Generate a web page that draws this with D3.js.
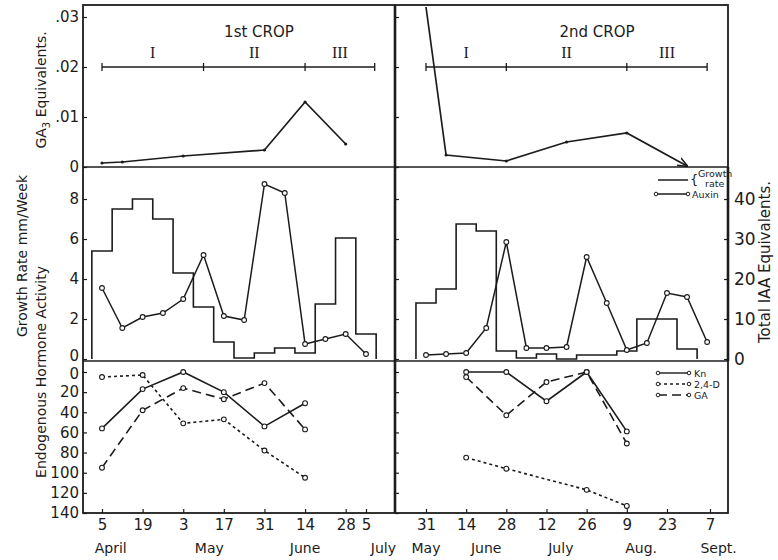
<!DOCTYPE html>
<html>
<head>
<meta charset="utf-8">
<script src="https://cdn.jsdelivr.net/npm/d3@7"></script>
<style>
  body { margin: 0; background: #fff; }
  text { font-family: "DejaVu Sans", sans-serif; fill: #1c1c1c; }
  .serif { font-family: "Liberation Serif", "DejaVu Serif", serif; }
</style>
</head>
<body>
<svg id="chart" width="778" height="560"></svg>
<script>
// ---- data ----
var weeksLeft = ["1960-04-05","1960-04-12","1960-04-19","1960-04-26","1960-05-03","1960-05-10","1960-05-17",
  "1960-05-24","1960-05-31","1960-06-07","1960-06-14","1960-06-21","1960-06-28","1960-07-05"];
var growthLeft = [5.4, 7.5, 8.0, 7.0, 4.3, 2.6, 0.85, 0.05, 0.3, 0.55, 0.3, 2.75, 6.05, 1.25];
var auxinLeft = [17.75, 7.75, 10.5, 11.5, 15, 26, 10.75, 9.75, 43.75, 41.5, 3.75, 5, 6.25, 1.25];

var weeksRight = ["1960-05-31","1960-06-07","1960-06-14","1960-06-21","1960-06-28","1960-07-05","1960-07-12",
  "1960-07-19","1960-07-26","1960-08-02","1960-08-09","1960-08-16","1960-08-23","1960-08-30"];
var growthRight = [2.8, 3.5, 6.75, 6.4, 0.4, 0.05, 0.25, 0.0, 0.2, 0.2, 0.4, 2.0, 2.0, 0.5];
var auxinRightDates = weeksRight.concat(["1960-09-06"]);
var auxinRight = [1.0, 1.25, 1.5, 7.75, 29.25, 2.75, 2.75, 3.0, 25.5, 14, 2.25, 4.0, 16.5, 15.5, 4.25];

var ga3LeftDates = ["1960-04-05","1960-04-12","1960-05-03","1960-05-31","1960-06-14","1960-06-28"];
var ga3Left = [0.0008, 0.001, 0.0022, 0.0034, 0.013, 0.0046];
var ga3RightDates = ["1960-05-31","1960-06-07","1960-06-28","1960-07-19","1960-08-09","1960-08-30"];
var ga3Right = [0.032, 0.0024, 0.0012, 0.005, 0.0068, 0.0002];

var hormoneLeftDates = ["1960-04-05","1960-04-19","1960-05-03","1960-05-17","1960-05-31","1960-06-14"];
var knLeft = [56, 17, 0, 20, 54, 31];
var gaLeft = [95, 38, 16, 27, 11, 57];
var d24Left = [5, 3, 51, 47, 78, 105];

var hormoneRightDates = ["1960-06-14","1960-06-28","1960-07-12","1960-07-26","1960-08-09"];
var knRight = [0, 0, 29, 0, 59];
var gaRight = [5, 43, 10, 0, 71];
var d24RightDates = ["1960-06-14","1960-06-28","1960-07-26","1960-08-09"];
var d24Right = [85, 96, 117, 133];

var phaseLeft = ["1960-04-05","1960-05-10","1960-06-14","1960-07-08"];
var phaseRight = ["1960-05-31","1960-06-28","1960-08-09","1960-09-06"];
var phaseLabels = ["I", "II", "III"];

var tickDatesLeft = ["1960-04-05","1960-04-19","1960-05-03","1960-05-17","1960-05-31","1960-06-14","1960-06-28","1960-07-05"];
var tickDatesRight = ["1960-05-31","1960-06-14","1960-06-28","1960-07-12","1960-07-26","1960-08-09","1960-08-23","1960-09-07"];
var monthsLeft = [["April","1960-04-08"],["May","1960-05-12"],["June","1960-06-14"],["July","1960-07-11"]];
var monthsRight = [["May","1960-05-31"],["June","1960-06-21"],["July","1960-07-17"],["Aug.","1960-08-14"],["Sept.","1960-09-10"]];

var ga3Ticks = [0, 0.01, 0.02, 0.03];
var growthTicks = [0, 2, 4, 6, 8];
var iaaTicks = [0, 10, 20, 30, 40];
var hormoneTicks = [0, 20, 40, 60, 80, 100, 120, 140];

// ---- setup ----
var parse = d3.utcParse("%Y-%m-%d");
var ink = "#1c1c1c";
var svg = d3.select("#chart");

var L = 83, R = 728, T = 5, MID = 395, B1 = 167, B2 = 361, B = 513;

var xLeft = d3.scaleUtc().domain([parse("1960-04-05"), parse("1960-07-05")]).range([102, 366]);
var xRight = d3.scaleUtc().domain([parse("1960-05-31"), parse("1960-09-07")]).range([426, 710]);

var yGA3 = d3.scaleLinear().domain([0, 0.03]).range([167, 17]);
var yGrowth = d3.scaleLinear().domain([0, 8]).range([359, 199]);
var yIAA = d3.scaleLinear().domain([0, 40]).range([359, 199]);
var yHormone = d3.scaleLinear().domain([0, 140]).range([372, 513]);

function pairs(dates, values) {
  return dates.map(function(d, i) { return { date: parse(d), value: values[i] }; });
}

// arrow marker for the GA3 line end
svg.append("defs").append("marker")
  .attr("id", "arrow").attr("viewBox", "0 0 10 10").attr("refX", 9).attr("refY", 5)
  .attr("markerWidth", 6).attr("markerHeight", 6).attr("orient", "auto")
  .append("path").attr("d", "M0,1 L10,5 L0,9").attr("fill", "none").attr("stroke", ink).attr("stroke-width", 1.5);

// ---- frame ----
svg.append("rect").attr("x", L).attr("y", T).attr("width", R - L).attr("height", B - T)
  .attr("fill", "none").attr("stroke", ink).attr("stroke-width", 1.8);
svg.append("line").attr("x1", L).attr("x2", R).attr("y1", B1).attr("y2", B1).attr("stroke", ink).attr("stroke-width", 1.6);
svg.append("line").attr("x1", L).attr("x2", R).attr("y1", B2).attr("y2", B2).attr("stroke", ink).attr("stroke-width", 1.6);
svg.append("line").attr("x1", MID).attr("x2", MID).attr("y1", T).attr("y2", B).attr("stroke", ink).attr("stroke-width", 2.6);
svg.append("line").attr("x1", R).attr("x2", R).attr("y1", B1).attr("y2", B2).attr("stroke", ink).attr("stroke-width", 2.6);

// ---- left axes ----
function styleAxis(g, size) {
  g.select(".domain").remove();
  g.selectAll("line").attr("stroke", ink).attr("stroke-width", 1.2);
  g.selectAll("text").style("font-size", size + "px").attr("fill", ink);
}

var fmtGA3 = function(d) { return d === 0 ? "0" : d3.format(".2f")(d).slice(1); };

svg.append("g").attr("transform", "translate(" + L + ",0)")
  .call(d3.axisLeft(yGA3).tickValues(ga3Ticks).tickFormat(fmtGA3).tickSize(-4).tickPadding(4))
  .call(styleAxis, 15);
svg.append("g").attr("transform", "translate(" + L + ",0)")
  .call(d3.axisLeft(yGrowth).tickValues(growthTicks).tickSize(-4).tickPadding(4))
  .call(styleAxis, 15)
  // the two stacked zeros sit closer in the original; nudge apart a little
  .selectAll(".tick text").filter(function(d) { return d === 0; }).attr("dy", "0.12em");
svg.append("g").attr("transform", "translate(" + L + ",0)")
  .call(d3.axisLeft(yHormone).tickValues(hormoneTicks).tickSize(-4).tickPadding(4))
  .call(styleAxis, 15)
  .selectAll(".tick text").filter(function(d) { return d === 0; }).attr("dy", "0.42em");

// ticks on the divider (no labels)
[[yGA3, ga3Ticks], [yGrowth, growthTicks], [yHormone, hormoneTicks]].forEach(function(s) {
  svg.append("g").attr("transform", "translate(" + MID + ",0)")
    .call(d3.axisRight(s[0]).tickValues(s[1]).tickFormat("").tickSize(4))
    .call(styleAxis, 10);
});

// right IAA axis
svg.append("g").attr("transform", "translate(" + R + ",0)")
  .call(d3.axisRight(yIAA).tickValues(iaaTicks).tickSize(-4).tickPadding(6))
  .call(styleAxis, 17);

// ---- bottom date axes ----
var dayFmt = d3.utcFormat("%-d");
[[xLeft, tickDatesLeft, monthsLeft], [xRight, tickDatesRight, monthsRight]].forEach(function(a) {
  svg.append("g").attr("transform", "translate(0," + B + ")")
    .call(d3.axisBottom(a[0]).tickValues(a[1].map(parse)).tickFormat(dayFmt).tickSize(-4).tickPadding(6))
    .call(styleAxis, 15);
  svg.append("g").selectAll("text").data(a[2]).join("text")
    .attr("x", function(d) { return a[0](parse(d[1])); })
    .attr("y", 553)
    .attr("text-anchor", "middle")
    .style("font-size", "14px")
    .text(function(d) { return d[0]; });
});

// ---- axis titles ----
var ga3Title = svg.append("text").attr("transform", "translate(46,90) rotate(-90)")
  .attr("text-anchor", "middle").style("font-size", "14px");
ga3Title.append("tspan").text("GA");
ga3Title.append("tspan").attr("dy", 4).style("font-size", "10px").text("3");
ga3Title.append("tspan").attr("dy", -4).text("  Equivalents.");

svg.append("text").attr("transform", "translate(27,256) rotate(-90)")
  .attr("text-anchor", "middle").style("font-size", "14px").text("Growth Rate  mm/Week");
svg.append("text").attr("transform", "translate(46,372) rotate(-90)")
  .attr("text-anchor", "middle").style("font-size", "14px").text("Endogenous  Hormone  Activity");
svg.append("text").attr("transform", "translate(770,262) rotate(-90)")
  .attr("text-anchor", "middle").style("font-size", "15px").text("Total  IAA  Equivalents.");

// ---- panel headers and phase bars ----
[[xLeft, phaseLeft, "1st  CROP", 259], [xRight, phaseRight, "2nd  CROP", 597]].forEach(function(p) {
  var xs = p[1].map(function(d) { return p[0](parse(d)); });
  var yb = yGA3(0.02);
  svg.append("text").attr("x", p[3]).attr("y", 37).attr("text-anchor", "middle")
    .style("font-size", "15px").text(p[2]);
  svg.append("line").attr("x1", xs[0]).attr("x2", xs[xs.length - 1]).attr("y1", yb).attr("y2", yb)
    .attr("stroke", ink).attr("stroke-width", 1.3);
  svg.append("g").selectAll("line").data(xs).join("line")
    .attr("x1", function(d) { return d; }).attr("x2", function(d) { return d; })
    .attr("y1", yb - 4).attr("y2", yb + 4).attr("stroke", ink).attr("stroke-width", 1.3);
  svg.append("g").selectAll("text").data(phaseLabels).join("text")
    .attr("class", "serif")
    .attr("x", function(d, i) { return (xs[i] + xs[i + 1]) / 2; })
    .attr("y", 58).attr("text-anchor", "middle").style("font-size", "16px")
    .text(function(d) { return d; });
});

// ---- GA3 lines ----
function drawLine(data, x, y, dash, width, marker) {
  var path = svg.append("path").datum(data)
    .attr("fill", "none").attr("stroke", ink).attr("stroke-width", width || 1.5)
    .attr("stroke-dasharray", dash || null)
    .attr("d", d3.line().x(function(d) { return x(d.date); }).y(function(d) { return y(d.value); }));
  if (marker) path.attr("marker-end", "url(#arrow)");
  return path;
}
function drawCircles(data, x, y, r) {
  svg.append("g").selectAll("circle").data(data).join("circle")
    .attr("cx", function(d) { return x(d.date); }).attr("cy", function(d) { return y(d.value); })
    .attr("r", r).attr("fill", "#fff").attr("stroke", ink).attr("stroke-width", 1.1);
}

var gaL = pairs(ga3LeftDates, ga3Left), gaR = pairs(ga3RightDates, ga3Right);
drawLine(gaL, xLeft, yGA3, null, 1.7);
drawLine(gaR, xRight, yGA3, null, 1.7, true);
svg.append("g").selectAll("circle").data(gaL.concat(gaR.slice(1, 5))).join("circle")
  .attr("cx", function(d, i) { return i < gaL.length ? xLeft(d.date) : xRight(d.date); })
  .attr("cy", function(d) { return yGA3(d.value); })
  .attr("r", 1.6).attr("fill", ink);

// ---- growth rate step histograms ----
var halfWeek = 3.5 * 864e5;
function stepPath(dates, values, x) {
  var pts = [];
  dates.forEach(function(d, i) {
    var t = +parse(d);
    var x0 = x(new Date(t - halfWeek)), x1 = x(new Date(t + halfWeek));
    if (i === 0) pts.push([x0, yGrowth(0)]);
    pts.push([x0, yGrowth(values[i])]);
    pts.push([x1, yGrowth(values[i])]);
    if (i === dates.length - 1) pts.push([x1, yGrowth(0)]);
  });
  return d3.line()(pts);
}
svg.append("path").attr("d", stepPath(weeksLeft, growthLeft, xLeft))
  .attr("fill", "none").attr("stroke", ink).attr("stroke-width", 1.6);
svg.append("path").attr("d", stepPath(weeksRight, growthRight, xRight))
  .attr("fill", "none").attr("stroke", ink).attr("stroke-width", 1.6);

// ---- auxin lines ----
var auxL = pairs(weeksLeft, auxinLeft), auxR = pairs(auxinRightDates, auxinRight);
drawLine(auxL, xLeft, yIAA, null, 1.5);
drawLine(auxR, xRight, yIAA, null, 1.5);
drawCircles(auxL, xLeft, yIAA, 2.4);
drawCircles(auxR, xRight, yIAA, 2.4);

// ---- endogenous hormone lines ----
var dashKn = null, dashD24 = "3,3", dashGA = "9,5";
var hormoneSets = [
  [pairs(hormoneLeftDates, knLeft), xLeft, dashKn],
  [pairs(hormoneLeftDates, gaLeft), xLeft, dashGA],
  [pairs(hormoneLeftDates, d24Left), xLeft, dashD24],
  [pairs(hormoneRightDates, knRight), xRight, dashKn],
  [pairs(hormoneRightDates, gaRight), xRight, dashGA],
  [pairs(d24RightDates, d24Right), xRight, dashD24]
];
hormoneSets.forEach(function(s) { drawLine(s[0], s[1], yHormone, s[2], 1.6); });
hormoneSets.forEach(function(s) { drawCircles(s[0], s[1], yHormone, 2.4); });

// ---- legends ----
// growth rate / auxin
svg.append("line").attr("x1", 658).attr("x2", 688).attr("y1", 180).attr("y2", 180)
  .attr("stroke", ink).attr("stroke-width", 1.5);
svg.append("text").attr("x", 690).attr("y", 184).style("font-size", "13px").text("{");
svg.append("text").attr("x", 698).attr("y", 177).style("font-size", "9.5px").text("Growth");
svg.append("text").attr("x", 705).attr("y", 187).style("font-size", "9.5px").text("rate");
svg.append("line").attr("x1", 656).attr("x2", 688).attr("y1", 194).attr("y2", 194)
  .attr("stroke", ink).attr("stroke-width", 1.5);
svg.append("g").selectAll("circle").data([656, 688]).join("circle")
  .attr("cx", function(d) { return d; }).attr("cy", 194).attr("r", 1.8)
  .attr("fill", "#fff").attr("stroke", ink).attr("stroke-width", 1);
svg.append("text").attr("x", 692).attr("y", 198).style("font-size", "9.5px").text("Auxin");

// Kn / 2,4-D / GA
var legendItems = [["Kn", dashKn, 373], ["2,4-D", dashD24, 384], ["GA", dashGA, 395]];
legendItems.forEach(function(l) {
  svg.append("line").attr("x1", 658).attr("x2", 689).attr("y1", l[2]).attr("y2", l[2])
    .attr("stroke", ink).attr("stroke-width", 1.4).attr("stroke-dasharray", l[1]);
  svg.append("g").selectAll("circle").data([658, 689]).join("circle")
    .attr("cx", function(d) { return d; }).attr("cy", l[2]).attr("r", 1.8)
    .attr("fill", "#fff").attr("stroke", ink).attr("stroke-width", 1);
  svg.append("text").attr("x", 694).attr("y", l[2] + 3.5).style("font-size", "9.5px").text(l[0]);
});
</script>
</body>
</html>
